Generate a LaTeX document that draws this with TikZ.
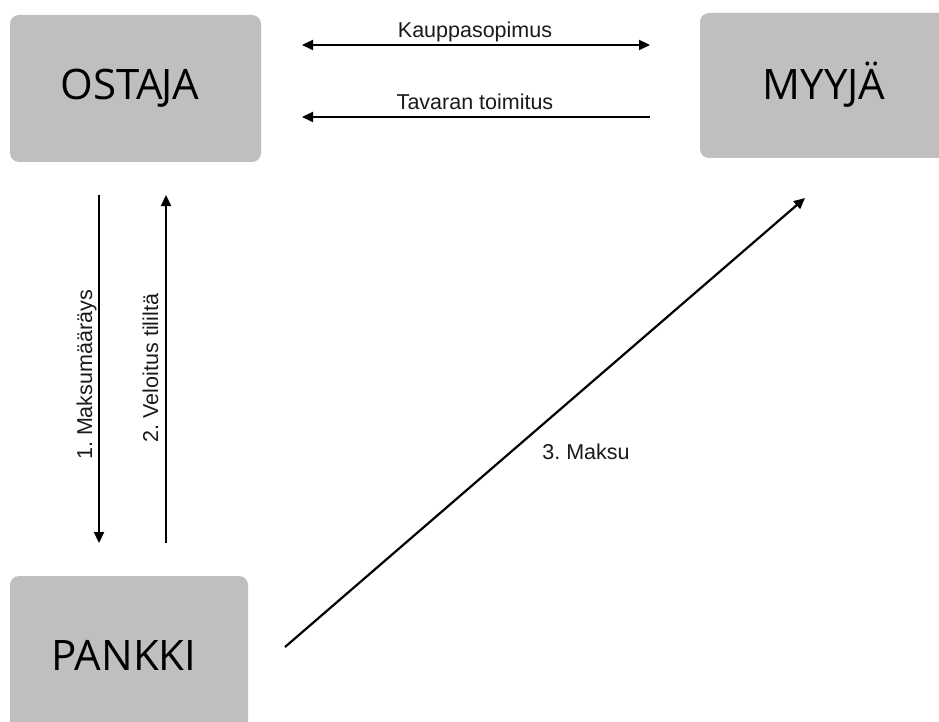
\documentclass[tikz,border=0pt]{standalone}
\usepackage{fontspec}
\setmainfont{Liberation Sans}
\newfontfamily\boxfont{Open Sans}
\usetikzlibrary{arrows.meta}
\definecolor{boxgray}{HTML}{BFBFBF}
\definecolor{textgray}{HTML}{1A1A1A}
\frenchspacing
\begin{document}
\begin{tikzpicture}[x=1pt,y=-1pt,
  boxshape/.style={fill=boxgray, rounded corners=9pt, draw=none, inner sep=0pt},
  boxlabel/.style={font=\boxfont\fontsize{42}{50}\selectfont, text=black, anchor=base, inner sep=0pt},
  lbl/.style={font=\fontsize{21.5}{25}\selectfont, text=textgray, anchor=base, inner sep=0pt},
  conn/.style={line width=2.2pt, -{Triangle[length=11pt,width=10pt]}},
  bothconn/.style={line width=2.2pt, {Triangle[length=11pt,width=10pt]}-{Triangle[length=11pt,width=10pt]}},
]
\clip (0,0) rectangle (939,722);
\fill[white] (0,0) rectangle (939,722);

% boxes
\node[boxshape, minimum width=251pt, minimum height=147pt] (ostaja) at (135.5,88.5) {};
\node[boxshape, minimum width=250pt, minimum height=145pt] (myyja) at (825,85.5) {};
\node[boxshape, minimum width=238pt, minimum height=154pt] (pankki) at (129,653) {};

\node[boxlabel] (ostajatxt) at (130,100) {OSTA\kern-2pt JA};
\node[boxlabel] (myyjatxt) at (824,100) {MYYJÄ};
\node[boxlabel] (pankkitxt) at (124,670) {PANKKI};

% connector end points
\coordinate (kA) at (302,45);
\coordinate (kB) at (650,45);
\coordinate (tA) at (650,117);
\coordinate (tB) at (302,117);
\coordinate (mA) at (99,195);
\coordinate (mB) at (99,543);
\coordinate (vA) at (166,543);
\coordinate (vB) at (166,195);
\coordinate (pA) at (285,647);
\coordinate (pB) at (805,198);

\draw[bothconn] (kA) -- (kB);
\draw[conn] (tA) -- (tB);
\draw[conn] (mA) -- (mB);
\draw[conn] (vA) -- (vB);
\draw[conn] (pA) -- (pB);

% labels
\node[lbl] (kl) at (475,38) {Kauppasopimus};
\node[lbl] (tl) at (475,110) {Tavaran toimitus};
\node[lbl, rotate=90] (ml) at (92,375) {1. Maksumääräys};
\node[lbl, rotate=90] (vl) at (158,368) {2. Veloitus tililtä};
\node[lbl] (pl) at (586,459) {3. Maksu};
\end{tikzpicture}
\end{document}
